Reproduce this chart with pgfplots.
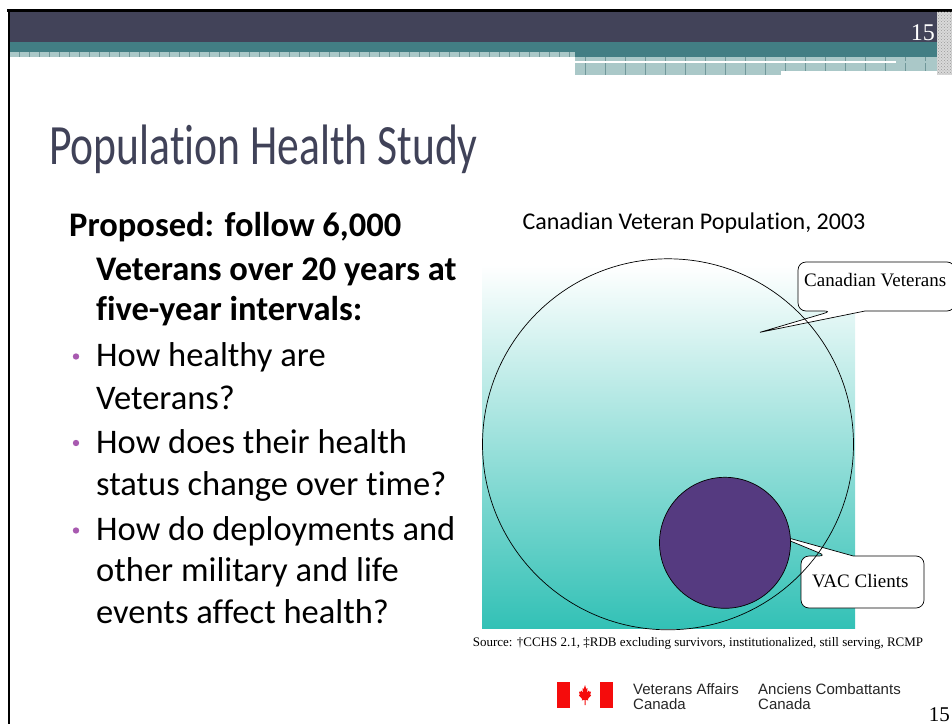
\documentclass[border=0pt]{standalone}
\usepackage{pgfplots}
\pgfplotsset{compat=1.18}
\usepackage{fontspec}
\setmainfont[Ligatures={NoCommon}]{Carlito}
\newfontfamily\tnr{Liberation Serif}
\newfontfamily\arial{Liberation Sans}
\usetikzlibrary{patterns}
\definecolor{darkband}{RGB}{66,67,89}
\definecolor{tealband}{RGB}{66,126,132}
\definecolor{patfill}{RGB}{170,200,200}
\definecolor{patline}{RGB}{112,152,154}
\definecolor{titlecol}{RGB}{64,66,88}
\definecolor{vteal}{RGB}{51,193,182}
\definecolor{vpurple}{RGB}{85,58,128}
\definecolor{bulletc}{RGB}{168,90,176}
\definecolor{flagred}{RGB}{245,12,12}
\begin{document}
\begin{tikzpicture}
\begin{axis}[width=952bp, height=724bp, scale only axis, hide axis,
  xmin=0, xmax=952, ymin=0, ymax=724, y dir=reverse, clip=false]

% ---------- slide header ----------
\fill[black] (7,9) rectangle (952,11.7);
\fill[black] (7.5,9) rectangle (9.5,724);
\fill[darkband] (9.5,11.7) rectangle (937,41.7);
\fill[tealband] (9.5,41.7) rectangle (575,51.7);
\fill[tealband] (575,41.7) rectangle (937,56.7);
\fill[patfill] (9.5,51.7) rectangle (575,56.7);
\pgfplotsinvokeforeach{19,29,...,569}{\draw[patline, line width=0.6bp] (#1,51.7) -- (#1,56.7);}
\fill[patfill] (575,56.7) rectangle (937,61);
\fill[white] (575,61) rectangle (896,63.3);
\fill[patfill] (896,61) rectangle (937,63.3);
\fill[patfill] (575,63.3) rectangle (781,75);
\fill[patfill] (781,63.3) rectangle (937,71);
\pgfplotsinvokeforeach{585,605,...,925}{\draw[patline, line width=0.6bp] (#1,56.7) -- (#1,61);}
\pgfplotsinvokeforeach{585,605,...,765}{\draw[patline, line width=0.6bp] (#1,63.3) -- (#1,75);}
\pgfplotsinvokeforeach{785,805,...,925}{\draw[patline, line width=0.6bp] (#1,63.3) -- (#1,71);}
\fill[gray!30] (937,11.7) rectangle (952,75);
\fill[pattern=crosshatch dots, pattern color=gray!80] (937,11.7) rectangle (952,75);
\node[anchor=base east, inner sep=0pt, text=white, font=\tnr\fontsize{24bp}{24bp}\selectfont] at (935,41) {15};

% ---------- title ----------
\node[anchor=base west, inner sep=0pt, text=titlecol] at (49,164.5)
  {\scalebox{0.765}[1]{\fontsize{57bp}{60bp}\selectfont Population Health Study}};

% ---------- left text ----------
\begin{scope}[every node/.style={anchor=base west, inner sep=0pt, font=\fontsize{34.5bp}{40bp}\selectfont}]
\node at (69,236.7) {\bfseries Proposed: follow 6,000};
\node at (96,280) {\bfseries Veterans over 20 years at};
\node at (96,320) {\bfseries five-year intervals:};
\node at (96,366.7) {How healthy are};
\node at (96,409) {Veterans?};
\node at (96,453) {How does their health};
\node at (96,495.7) {status change over time?};
\node at (96,540.7) {How do deployments and};
\node at (96,581.7) {other military and life};
\node at (96,623) {events affect health?};
\end{scope}
\fill[bulletc] (76,356.5) circle[radius=3.2];
\fill[bulletc] (76,443) circle[radius=3.2];
\fill[bulletc] (76,530.5) circle[radius=3.2];

% ---------- chart ----------
\node[anchor=base, inner sep=0pt, font=\fontsize{24bp}{24bp}\selectfont] at (694,229.3)
  {Canadian Veteran Population, 2003};

% background gradient panel
\addplot[draw=none, shading=axis, top color=white, bottom color=vteal]
  coordinates {(482,265) (855,265) (855,628) (482,628)} -- cycle;

% Canadian Veterans (all)
\addplot[only marks, mark=o, mark size=185.5bp, mark options={draw=black, line width=0.7bp}]
  coordinates {(668,444.3)};
% VAC Clients (subset)
\addplot[only marks, mark=*, mark size=65.5bp, mark options={draw=black, fill=vpurple, line width=0.7bp}]
  coordinates {(725,542.8)};

% callouts
\draw[fill=white, line width=0.7bp] (865,311) [rounded corners=8bp] -- (955,311) -- (955,262) -- (798,262) -- (798,311) -- (832,311) [sharp corners] -- (760,332.3) -- cycle;
\node[anchor=base west, inner sep=0pt, font=\tnr\fontsize{19bp}{19bp}\selectfont] at (804,286) {Canadian Veterans};

\draw[fill=white, line width=0.7bp] (853.3,556) [rounded corners=8bp] -- (924,556) -- (924,608) -- (801,608) -- (801,556) -- (826.7,556) [sharp corners] -- (771.7,533.3) -- cycle;
\node[anchor=base west, inner sep=0pt, font=\tnr\fontsize{19bp}{19bp}\selectfont] at (812,587.3) {VAC Clients};

% source
\node[anchor=base, inner sep=0pt, font=\tnr\fontsize{13bp}{13bp}\selectfont] at (698,646)
  {Source: †CCHS 2.1, ‡RDB excluding survivors, institutionalized, still serving, RCMP};

% ---------- logo ----------
\fill[flagred] (557,682) rectangle (570,708);
\fill[flagred] (600,682) rectangle (613,708);
\fill[flagred] (585,685) -- (586.3,689) -- (587.5,688.2) -- (587.1,692.5) -- (588.9,690.5) -- (589.6,692) -- (591,691.5) -- (590.3,694.5) -- (591,695.5) -- (587.8,699) -- (588.2,700.5) -- (585.5,699.7) -- (585.5,705) -- (584.5,705) -- (584.5,699.7) -- (581.8,700.5) -- (582.2,699) -- (579,695.5) -- (579.7,694.5) -- (579,691.5) -- (580.4,692) -- (581.1,690.5) -- (582.9,692.5) -- (582.5,688.2) -- (583.7,689) -- cycle;
\begin{scope}[every node/.style={anchor=base west, inner sep=0pt, text=black!85, font=\arial\fontsize{15bp}{15bp}\selectfont}]
\node at (633,694) {Veterans Affairs};
\node at (633,709.5) {Canada};
\node at (758,694) {Anciens Combattants};
\node at (758,709.5) {Canada};
\end{scope}
\node[anchor=base east, inner sep=0pt, font=\tnr\fontsize{21bp}{21bp}\selectfont] at (950,721) {15};

\end{axis}
\pgfresetboundingbox
\useasboundingbox (current axis.south west) rectangle (current axis.north east);
\end{tikzpicture}
\end{document}
